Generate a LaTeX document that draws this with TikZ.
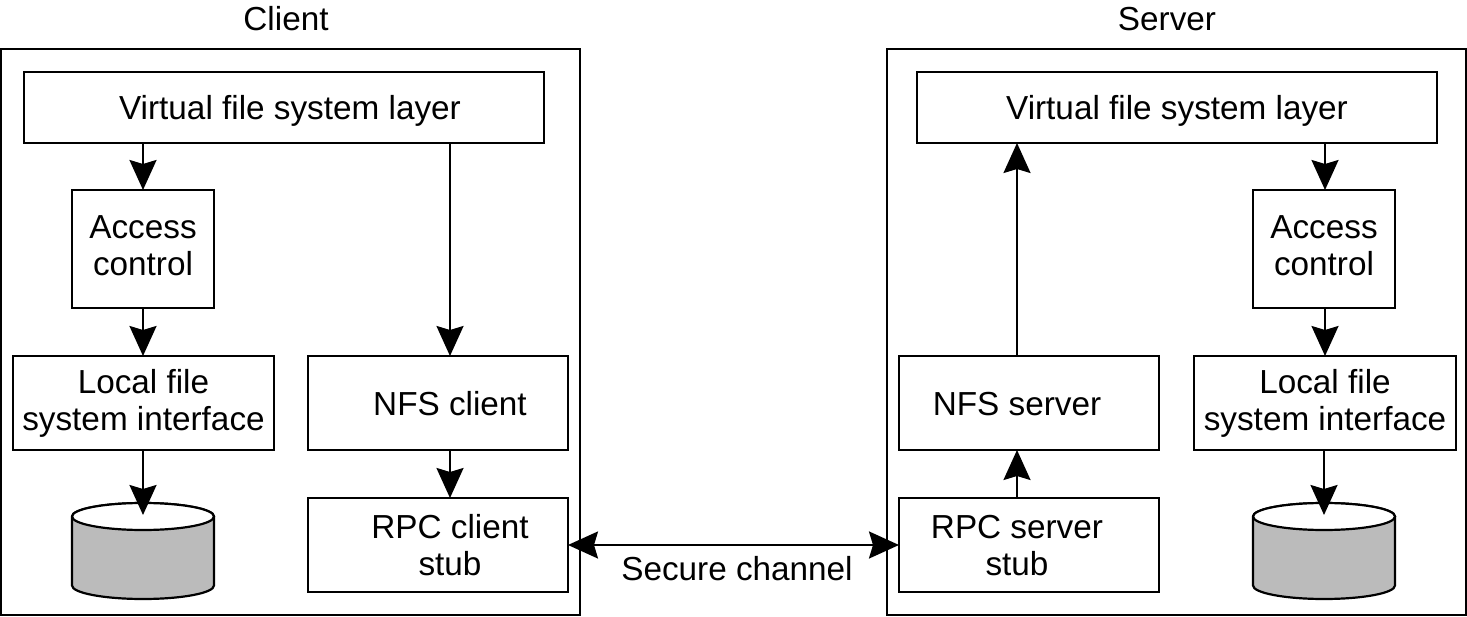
\documentclass[tikz,border=0pt]{standalone}
\usepackage{fontspec}
\setmainfont{Liberation Sans}
\usetikzlibrary{arrows.meta}
\definecolor{diskgrey}{HTML}{BBBBBB}
\tikzset{
  box/.style={draw=black,line width=2.2pt,fill=white,inner sep=0pt,outer sep=0pt,align=center,font=\fontsize{33.3}{37}\selectfont},
  outerbox/.style={draw=black,line width=2.6pt,inner sep=0pt,outer sep=0pt},
  lbl/.style={inner sep=0pt,align=center,font=\fontsize{33.3}{37}\selectfont},
  shifted/.style n args={3}{label={[lbl,xshift=#1pt,yshift=#2pt]center:#3}},
  flow/.style={line width=2.2pt,-{Stealth[length=30pt,width=27pt,inset=4pt]}},
  twoway/.style={line width=2.2pt,{Stealth[length=30pt,width=27pt,inset=4pt]}-{Stealth[length=30pt,width=27pt,inset=4pt]}},
  disk/.style={draw=black,line width=2.2pt,fill=diskgrey},
}
\newcommand{\diskshape}[1]{%
  \path[disk] (#1.north west) ++(0,13.5) -- ++(0,69)
    arc[start angle=180,end angle=0,x radius=71,y radius=13.5]
    -- ++(0,-69) arc[start angle=0,end angle=-180,x radius=71,y radius=13.5] -- cycle;
  \path[draw=black,line width=2.2pt,fill=white] (#1.north west) ++(0,13.5)
    arc[start angle=180,end angle=540,x radius=71,y radius=13.5];
}
\begin{document}
\begin{tikzpicture}[x=1pt,y=-1pt]
\useasboundingbox (0,0) rectangle (1467,617);
\fill[white] (0,0) rectangle (1467,617);

% outer frames
\node[outerbox,minimum width=579pt,minimum height=566pt] (clientframe) at (290.5,332) {};
\node[outerbox,minimum width=579pt,minimum height=566pt] (serverframe) at (1176.5,332) {};
\node[lbl,anchor=base] (clientlbl) at (286,31) {Client};
\node[lbl,anchor=base] (serverlbl) at (1167,31) {Server};

% client
\node[box,minimum width=520pt,minimum height=71pt,shifted={6}{-3}{Virtual file system layer}] (cvfs) at (284,107.5) {};
\node[box,minimum width=142pt,minimum height=118pt,shifted={0}{3}{Access\\control}] (cacc) at (143,249) {};
\node[box,minimum width=261pt,minimum height=94pt] (clocal) at (143.5,403) {Local file\\system interface};
\node[box,minimum width=260pt,minimum height=94pt,shifted={12}{-1}{NFS client}] (cnfs) at (438,403) {};
\node[box,minimum width=260pt,minimum height=94pt,shifted={12}{0}{RPC client\\stub}] (crpc) at (438,545) {};
\node[minimum width=142pt,minimum height=96pt,inner sep=0pt,outer sep=0pt] (cdisk) at (143,551) {};
\coordinate (cnfsin) at (450,356);
\coordinate (crpcin) at (450,498);
\coordinate (cdiskin) at (143,515);
\diskshape{cdisk}

% server
\node[box,minimum width=520pt,minimum height=71pt,shifted={0}{-3}{Virtual file system layer}] (svfs) at (1177,107.5) {};
\node[box,minimum width=142pt,minimum height=118pt,shifted={0}{3}{Access\\control}] (sacc) at (1324,249) {};
\node[box,minimum width=262pt,minimum height=94pt] (slocal) at (1325,403) {Local file\\system interface};
\node[box,minimum width=260pt,minimum height=94pt,shifted={-12}{-1}{NFS server}] (snfs) at (1029,403) {};
\node[box,minimum width=260pt,minimum height=94pt,shifted={-12}{-1}{RPC server\\stub}] (srpc) at (1029,545) {};
\node[minimum width=142pt,minimum height=96pt,inner sep=0pt,outer sep=0pt] (sdisk) at (1324,551) {};
\coordinate (snfsout) at (1017,356);
\coordinate (srpcout) at (1017,498);
\coordinate (sdiskin) at (1324,515);
\diskshape{sdisk}

% client connectors
\draw[flow] (cvfs.south -| cacc.north) -- (cacc.north);
\draw[flow] (cacc.south) -- (clocal.north -| cacc.south);
\draw[flow] (clocal.south -| cdiskin) -- (cdiskin);
\draw[flow] (cvfs.south -| cnfsin) -- (cnfsin);
\draw[flow] (cnfs.south -| crpcin) -- (crpcin);

% server connectors
\draw[flow] (snfsout) -- (svfs.south -| snfsout);
\draw[flow] (srpcout) -- (snfs.south -| srpcout);
\draw[flow] (svfs.south -| slocal.north) -- (sacc.north -| slocal.north);
\draw[flow] (sacc.south -| slocal.north) -- (slocal.north);
\draw[flow] (slocal.south -| sdiskin) -- (sdiskin);

% channel
\draw[twoway] (crpc.east) -- (srpc.west);
\node[lbl] (secure) at (737,569) {Secure channel};
\end{tikzpicture}
\end{document}
